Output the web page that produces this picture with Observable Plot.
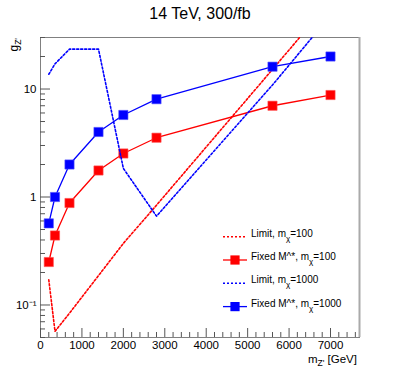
<!DOCTYPE html>
<html><head><meta charset="utf-8">
<script src="https://cdn.jsdelivr.net/npm/d3@7"></script>
<script src="https://cdn.jsdelivr.net/npm/@observablehq/plot@0.6"></script>
<style>body{margin:0;background:#fff;} svg{display:block}</style>
</head><body><div id="chart"></div>
<script>
// ---- data ----
const masses     = [200, 350, 700, 1400, 2000, 2800, 5600, 7000];
const fixed100   = [0.25, 0.44, 0.88, 1.76, 2.53, 3.54, 7.0, 8.8];
const fixed1000  = [0.57, 1.0, 2.0, 4.0, 5.75, 8.05, 16.1, 20.0];
const limit100   = [0.171, 0.057, 0.084, 0.187, 0.372, 0.84, 15.2, 65];
const limit1000  = [13.7, 17.1, 23.4, 23.4, 1.84, 0.665, 10.9, 48];

const xMajorTicks = [0, 1000, 2000, 3000, 4000, 5000, 6000, 7000];
const xMajorLabels = ["0", "1000", "2000", "3000", "4000", "5000", "6000", "7000"];
const xMinorTicks = [200,400,600,800,1200,1400,1600,1800,2200,2400,2600,2800,3200,3400,3600,3800,
                     4200,4400,4600,4800,5200,5400,5600,5800,6200,6400,6600,6800,7200,7400,7600];
const yMajorTicks = [0.1, 1, 10];
const yMajorLabels = ["10\u207B\u00B9", "1", "10"];
const yMinorTicks = [0.05,0.06,0.07,0.08,0.09,0.2,0.3,0.4,0.5,0.6,0.7,0.8,0.9,2,3,4,5,6,7,8,9,20,30];

const titleText = "14 TeV, 300/fb";
const legendEntries = [
  {pre: "Limit, m", sub: "\u03C7", post: "=100", color: "#ff0000", kind: "limit"},
  {pre: "Fixed M^*, m", sub: "\u03C7", post: "=100", color: "#ff0000", kind: "fixed"},
  {pre: "Limit, m", sub: "\u03C7", post: "=1000", color: "#0000ff", kind: "limit"},
  {pre: "Fixed M^*, m", sub: "\u03C7", post: "=1000", color: "#0000ff", kind: "fixed"}
];

const RED = "#ff0000", BLUE = "#0000ff";
const toRows = (ys) => masses.map((m, i) => ({m, v: ys[i]}));

const W = 399, H = 375, mL = 40, mR = 40, mT = 37, mB = 38;
const iw = W - mL - mR, ih = H - mT - mB;
const font = "'Liberation Sans', Arial, Helvetica, sans-serif";
const dash = "2,2";

const plot = Plot.plot({
  width: W, height: H,
  marginLeft: mL, marginRight: mR, marginTop: mT, marginBottom: mB,
  style: {fontFamily: font, fontSize: "11px", color: "#000", background: "#fff"},
  x: {domain: [0, 7700], axis: null},
  y: {type: "log", domain: [0.05, 30], axis: null},
  marks: [
    Plot.frame({stroke: "#808080", strokeWidth: 1}),
    Plot.tickX(xMajorTicks, {x: d => d, insetTop: ih - 9, stroke: "#555"}),
    Plot.tickX(xMinorTicks, {x: d => d, insetTop: ih - 5, stroke: "#555"}),
    Plot.tickY(yMajorTicks, {y: d => d, insetRight: iw - 10, stroke: "#555"}),
    Plot.tickY(yMinorTicks, {y: d => d, insetRight: iw - 5, stroke: "#555"}),
    Plot.text(xMajorTicks, {x: d => d, text: xMajorLabels, frameAnchor: "bottom", lineAnchor: "top", dy: 3, fill: "#000", fontSize: 11.5}),
    Plot.text(yMajorTicks, {y: d => d, text: yMajorLabels, frameAnchor: "left", textAnchor: "end", dx: -4, fill: "#000", fontSize: 11.5}),

    Plot.line(toRows(limit100), {x: "m", y: "v", stroke: RED, strokeWidth: 1.6, strokeDasharray: dash, clip: true}),
    Plot.line(toRows(fixed100), {x: "m", y: "v", stroke: RED, strokeWidth: 1.3}),
    Plot.dot(toRows(fixed100), {x: "m", y: "v", symbol: "square", r: 5.2, fill: RED, stroke: "#ff5050", strokeWidth: 0.6}),
    Plot.line(toRows(limit1000), {x: "m", y: "v", stroke: BLUE, strokeWidth: 1.6, strokeDasharray: dash, clip: true}),
    Plot.line(toRows(fixed1000), {x: "m", y: "v", stroke: BLUE, strokeWidth: 1.3}),
    Plot.dot(toRows(fixed1000), {x: "m", y: "v", symbol: "square", r: 5.2, fill: BLUE, stroke: "#5050ff", strokeWidth: 0.6})
  ]
});
document.getElementById("chart").appendChild(plot);

// ---- overlay: title, axis titles, legend ----
const svg = d3.select(plot);
svg.append("line").attr("x1", W - mR + 0.5).attr("x2", W - mR + 0.5).attr("y1", mT).attr("y2", H - mB)
  .attr("stroke", "#aaa").attr("stroke-width", 2);

svg.append("text").attr("x", 200).attr("y", 19).attr("text-anchor", "middle")
  .attr("font-family", font).attr("font-size", 16).attr("fill", "#000").text(titleText);

// x axis title
const xt = svg.append("text").attr("x", 357).attr("y", 362.5).attr("text-anchor", "end")
  .attr("font-family", font).attr("font-size", 11.5).attr("fill", "#000");
xt.append("tspan").text("m");
xt.append("tspan").attr("font-size", 8.5).attr("dy", 3).text("Z'");
xt.append("tspan").attr("dy", -3).text(" [GeV]");

// y axis title
const yt = svg.append("text").attr("transform", "translate(18,38) rotate(-90)").attr("text-anchor", "end")
  .attr("font-family", font).attr("font-size", 12).attr("fill", "#000");
yt.append("tspan").text("g");
yt.append("tspan").attr("font-size", 8.5).attr("dy", 3).text("Z'");

// legend
const lg = svg.append("g").attr("font-family", font).attr("font-size", 10).attr("text-anchor", "start");
legendEntries.forEach((e, i) => {
  const cy = 236.7 + i * 23.3;
  const g = lg.append("g");
  if (e.kind === "limit") {
    g.append("line").attr("x1", 223).attr("x2", 247).attr("y1", cy).attr("y2", cy)
      .attr("stroke", e.color).attr("stroke-width", 1.4).attr("stroke-dasharray", dash);
  } else {
    g.append("line").attr("x1", 223).attr("x2", 247).attr("y1", cy).attr("y2", cy)
      .attr("stroke", e.color).attr("stroke-width", 1.3);
    g.append("rect").attr("x", 235 - 4.6).attr("y", cy - 4.6).attr("width", 9.2).attr("height", 9.2)
      .attr("fill", e.color);
  }
  const t = g.append("text").attr("x", 251).attr("y", cy).attr("fill", "#000").attr("text-anchor", "start");
  t.append("tspan").text(e.pre);
  t.append("tspan").attr("font-size", 8).attr("dy", 4).text(e.sub);
  t.append("tspan").attr("dy", -4).text(e.post);
});
</script>
</body></html>
